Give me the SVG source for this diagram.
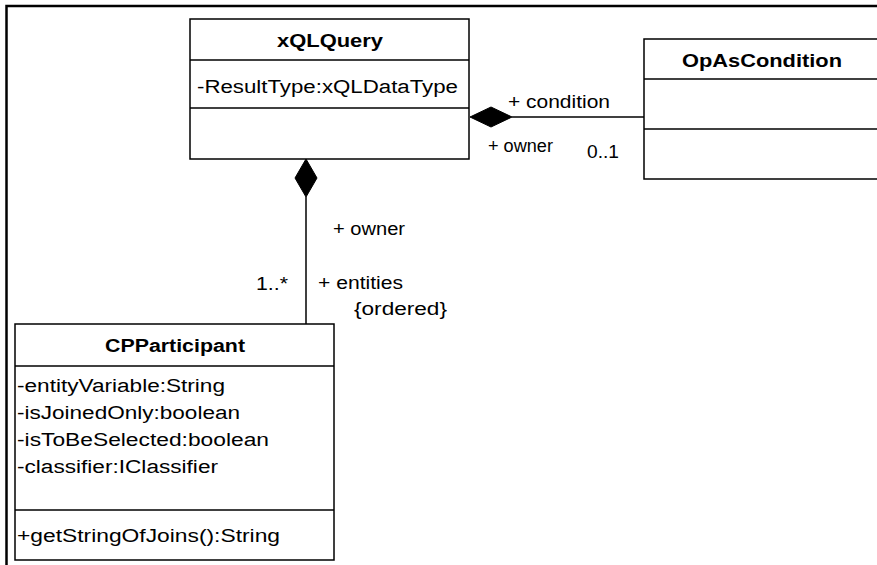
<svg xmlns="http://www.w3.org/2000/svg" width="877" height="565" viewBox="0 0 877 565">
<style>
.box{fill:#fff;stroke:#000;stroke-width:1.5}
.sep{stroke:#000;stroke-width:1.5}
.t{font-family:"Liberation Sans",Arial,sans-serif;font-size:18px;fill:#000}
.b{font-weight:bold}
.line{stroke:#000;stroke-width:1.5;fill:none}
.dia{fill:#000;stroke:#000;stroke-width:1}
</style>
<rect width="877" height="565" fill="#fff"/>
<path d="M6.5,565 V6 H877" fill="none" stroke="#000" stroke-width="2.5"/>
<g id="connectors">
<line class="line" x1="512" y1="117" x2="644" y2="117"/>
<polygon class="dia" points="470,117 491,107 512,117 491,127"/>
<line class="line" x1="306" y1="197" x2="306" y2="324"/>
<polygon class="dia" points="306,159 317,178 306,197 295,178"/>
<text class="t" x="508" y="108" textLength="102" lengthAdjust="spacingAndGlyphs">+ condition</text>
<text class="t" x="488" y="152" textLength="65" lengthAdjust="spacingAndGlyphs">+ owner</text>
<text class="t" x="587" y="158" textLength="32" lengthAdjust="spacingAndGlyphs">0..1</text>
<text class="t" x="333" y="235" textLength="72" lengthAdjust="spacingAndGlyphs">+ owner</text>
<text class="t" x="256" y="290" textLength="32" lengthAdjust="spacingAndGlyphs">1..*</text>
<text class="t" x="318" y="289" textLength="85" lengthAdjust="spacingAndGlyphs">+ entities</text>
<text class="t" x="354" y="315" textLength="93" lengthAdjust="spacingAndGlyphs">{ordered}</text>
</g>
<g id="xQLQuery">
<rect class="box" x="190" y="19" width="279" height="140"/>
<line class="sep" x1="190" y1="60" x2="469" y2="60"/>
<line class="sep" x1="190" y1="108" x2="469" y2="108"/>
<text class="t b" x="277" y="47" textLength="106" lengthAdjust="spacingAndGlyphs">xQLQuery</text>
<text class="t" x="197" y="93" textLength="261" lengthAdjust="spacingAndGlyphs">-ResultType:xQLDataType</text>
</g>
<g id="OpAsCondition">
<rect class="box" x="644" y="39" width="260" height="140"/>
<line class="sep" x1="644" y1="79" x2="877" y2="79"/>
<line class="sep" x1="644" y1="129" x2="877" y2="129"/>
<text class="t b" x="682" y="67" textLength="160" lengthAdjust="spacingAndGlyphs">OpAsCondition</text>
</g>
<g id="CPParticipant">
<rect class="box" x="15" y="324" width="319" height="236"/>
<line class="sep" x1="15" y1="366" x2="334" y2="366"/>
<line class="sep" x1="15" y1="510" x2="334" y2="510"/>
<text class="t b" x="105" y="352" textLength="140" lengthAdjust="spacingAndGlyphs">CPParticipant</text>
<text class="t" x="17" y="392" textLength="208" lengthAdjust="spacingAndGlyphs">-entityVariable:String</text>
<text class="t" x="17" y="419" textLength="223" lengthAdjust="spacingAndGlyphs">-isJoinedOnly:boolean</text>
<text class="t" x="17" y="446" textLength="252" lengthAdjust="spacingAndGlyphs">-isToBeSelected:boolean</text>
<text class="t" x="17" y="473" textLength="201" lengthAdjust="spacingAndGlyphs">-classifier:IClassifier</text>
<text class="t" x="17" y="542" textLength="263" lengthAdjust="spacingAndGlyphs">+getStringOfJoins():String</text>
</g>
</svg>
